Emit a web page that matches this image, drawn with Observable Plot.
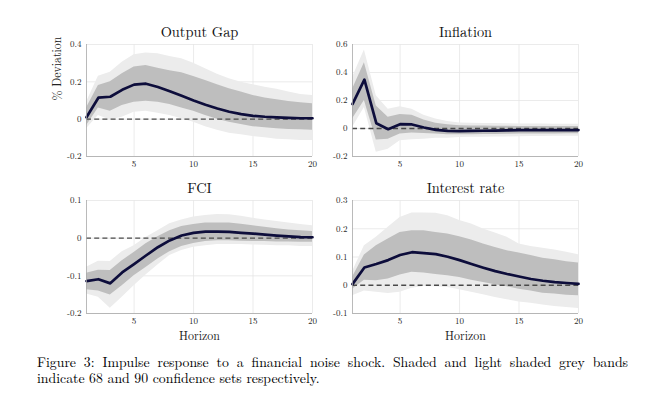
<!DOCTYPE html>
<html>
<head>
<meta charset="utf-8">
<script src="https://cdn.jsdelivr.net/npm/d3@7"></script>
<script src="https://cdn.jsdelivr.net/npm/@observablehq/plot@0.6"></script>
<style>
  html, body { margin: 0; padding: 0; background: #fff; }
</style>
</head>
<body>
<div id="wrap" style="position:relative;width:669px;height:408px;overflow:hidden;font-family:'Latin Modern Roman','Liberation Serif',serif;"></div>
<script>
const horizon = [1,2,3,4,5,6,7,8,9,10,11,12,13,14,15,16,17,18,19,20];
const xTicks = [5,10,15,20];

// Output Gap
const gapMed  = [0.01,0.115,0.12,0.157,0.185,0.19,0.172,0.15,0.125,0.10,0.077,0.057,0.04,0.027,0.018,0.013,0.01,0.007,0.005,0.005];
const gapLo68 = [-0.035,0.06,0.043,0.073,0.09,0.096,0.09,0.078,0.06,0.043,0.02,0.0,-0.016,-0.028,-0.04,-0.046,-0.052,-0.055,-0.057,-0.06];
const gapHi68 = [0.06,0.18,0.2,0.243,0.28,0.287,0.273,0.26,0.248,0.228,0.207,0.184,0.163,0.145,0.127,0.114,0.104,0.095,0.088,0.082];
const gapLo90 = [-0.052,0.02,-0.004,0.01,0.037,0.043,0.032,0.02,0.002,-0.016,-0.04,-0.06,-0.075,-0.084,-0.093,-0.1,-0.107,-0.11,-0.114,-0.114];
const gapHi90 = [0.09,0.23,0.252,0.305,0.345,0.355,0.35,0.336,0.323,0.3,0.27,0.24,0.216,0.198,0.184,0.171,0.16,0.145,0.132,0.127];

// Inflation
const infMed  = [0.174,0.349,0.038,-0.005,0.031,0.029,0.007,-0.01,-0.017,-0.019,-0.017,-0.016,-0.015,-0.014,-0.012,-0.012,-0.011,-0.011,-0.011,-0.011];
const infLo68 = [0.067,0.2,-0.083,-0.076,-0.04,-0.033,-0.036,-0.04,-0.045,-0.045,-0.044,-0.043,-0.042,-0.041,-0.04,-0.04,-0.039,-0.039,-0.038,-0.038];
const infHi68 = [0.28,0.47,0.16,0.08,0.1,0.095,0.06,0.038,0.026,0.02,0.018,0.017,0.016,0.016,0.015,0.015,0.015,0.015,0.015,0.015];
const infLo90 = [0.007,0.15,-0.17,-0.148,-0.088,-0.081,-0.076,-0.07,-0.07,-0.065,-0.063,-0.062,-0.061,-0.06,-0.059,-0.058,-0.057,-0.056,-0.055,-0.055];
const infHi90 = [0.365,0.56,0.234,0.138,0.155,0.138,0.095,0.067,0.05,0.04,0.037,0.036,0.035,0.034,0.033,0.032,0.032,0.031,0.031,0.03];

// FCI
const fciMed  = [-0.114,-0.109,-0.12,-0.091,-0.069,-0.046,-0.024,-0.006,0.007,0.014,0.0175,0.0175,0.0165,0.014,0.012,0.0095,0.007,0.005,0.003,0.0025];
const fciLo68 = [-0.137,-0.14,-0.151,-0.126,-0.1,-0.078,-0.055,-0.036,-0.022,-0.014,-0.009,-0.007,-0.007,-0.008,-0.009,-0.009,-0.01,-0.01,-0.011,-0.011];
const fciHi68 = [-0.093,-0.085,-0.086,-0.06,-0.038,-0.015,0.004,0.02,0.031,0.036,0.04,0.04,0.04,0.037,0.033,0.029,0.025,0.022,0.02,0.018];
const fciLo90 = [-0.148,-0.157,-0.186,-0.157,-0.126,-0.098,-0.071,-0.046,-0.033,-0.024,-0.02,-0.017,-0.017,-0.017,-0.018,-0.019,-0.02,-0.02,-0.022,-0.022];
const fciHi90 = [-0.077,-0.061,-0.062,-0.036,-0.02,0.002,0.02,0.038,0.048,0.056,0.06,0.063,0.062,0.058,0.053,0.048,0.044,0.04,0.036,0.033];

// Interest rate
const irMed  = [0.004,0.063,0.075,0.089,0.107,0.117,0.114,0.11,0.101,0.089,0.075,0.062,0.05,0.04,0.031,0.022,0.016,0.011,0.008,0.005];
const irLo68 = [-0.014,0.018,0.016,0.022,0.036,0.046,0.043,0.038,0.034,0.027,0.018,0.01,0.002,-0.005,-0.014,-0.02,-0.028,-0.031,-0.035,-0.037];
const irHi68 = [0.028,0.107,0.14,0.164,0.187,0.193,0.193,0.187,0.181,0.172,0.16,0.146,0.134,0.122,0.114,0.105,0.096,0.09,0.083,0.079];
const irLo90 = [-0.037,-0.02,-0.025,-0.029,-0.025,-0.011,-0.004,-0.005,-0.008,-0.016,-0.025,-0.034,-0.043,-0.051,-0.059,-0.064,-0.07,-0.075,-0.079,-0.082];
const irHi90 = [0.048,0.14,0.17,0.205,0.24,0.256,0.256,0.255,0.246,0.229,0.217,0.199,0.185,0.17,0.146,0.137,0.131,0.125,0.117,0.108];

const panels = [
  {title: "Output Gap", left: 86, top: 44, h: 112, yDomain: [-0.2, 0.4], yTicks: [-0.2, 0, 0.2, 0.4],
   med: gapMed, lo68: gapLo68, hi68: gapHi68, lo90: gapLo90, hi90: gapHi90, ylabel: "% Deviation", xlabel: null},
  {title: "Inflation", left: 352, top: 44, h: 112, yDomain: [-0.2, 0.6], yTicks: [-0.2, 0, 0.2, 0.4, 0.6],
   med: infMed, lo68: infLo68, hi68: infHi68, lo90: infLo90, hi90: infHi90, ylabel: null, xlabel: null},
  {title: "FCI", left: 86, top: 200, h: 113, yDomain: [-0.2, 0.1], yTicks: [-0.2, -0.1, 0, 0.1],
   med: fciMed, lo68: fciLo68, hi68: fciHi68, lo90: fciLo90, hi90: fciHi90, ylabel: null, xlabel: "Horizon"},
  {title: "Interest rate", left: 352, top: 200, h: 113, yDomain: [-0.1, 0.3], yTicks: [-0.1, 0, 0.1, 0.2, 0.3],
   med: irMed, lo68: irLo68, hi68: irHi68, lo90: irLo90, hi90: irHi90, ylabel: null, xlabel: "Horizon"}
];

const FONT = "'Latin Modern Roman', 'Liberation Serif', serif";
const W = 226, ML = 50, MR = 22, MT = 32, MB = 36;
const fmt = d => d === 0 ? "0" : String(+d.toFixed(2));
const wrap = document.getElementById("wrap");

for (const p of panels) {
  const rows = horizon.map((h, i) => ({h, med: p.med[i], lo68: p.lo68[i], hi68: p.hi68[i], lo90: p.lo90[i], hi90: p.hi90[i]}));
  const marks = [
    Plot.gridX(xTicks, {stroke: "#e6e6e6", strokeOpacity: 1, strokeWidth: 0.8}),
    Plot.gridY(p.yTicks, {stroke: "#e6e6e6", strokeOpacity: 1, strokeWidth: 0.8}),
    Plot.areaY(rows, {x: "h", y1: "lo90", y2: "hi90", fill: "#ececec"}),
    Plot.areaY(rows, {x: "h", y1: "lo68", y2: "hi68", fill: "#bebebe"}),
    Plot.ruleY([0], {stroke: "#4a4a4a", strokeWidth: 1.4, strokeDasharray: "5,3.2"}),
    Plot.line(rows, {x: "h", y: "med", stroke: "#0d0d3b", strokeWidth: 2.7}),
    Plot.ruleX([1], {stroke: "#a8a8a8", strokeWidth: 0.8}),
    Plot.ruleY([p.yDomain[0]], {stroke: "#a8a8a8", strokeWidth: 0.8}),
    Plot.axisX({ticks: xTicks, tickSize: 0, tickPadding: 4, tickFormat: fmt, fontSize: 9, fontFamily: FONT, fill: "#262626", label: null}),
    Plot.axisY({ticks: p.yTicks, tickSize: 0, tickPadding: 5, tickFormat: fmt, fontSize: 9, fontFamily: FONT, fill: "#262626", label: null}),
    Plot.text([p.title], {frameAnchor: "top", dy: -12, lineAnchor: "middle", fontSize: 14.4, fontFamily: FONT, fill: "#111"})
  ];
  if (p.ylabel) marks.push(Plot.text([p.ylabel], {frameAnchor: "left", dx: -29, rotate: -90, lineAnchor: "middle", fontSize: 11.8, fontFamily: FONT, fill: "#222"}));
  if (p.xlabel) marks.push(Plot.text([p.xlabel], {frameAnchor: "bottom", dy: 23, lineAnchor: "middle", fontSize: 12, fontFamily: FONT, fill: "#222"}));

  const chart = Plot.plot({
    width: W + ML + MR,
    height: p.h + MT + MB,
    marginLeft: ML, marginRight: MR, marginTop: MT, marginBottom: MB,
    x: {domain: [1, 20]},
    y: {domain: p.yDomain},
    style: {fontFamily: FONT, fontSize: "9px", color: "#262626", background: "transparent", overflow: "visible"},
    marks
  });
  const div = document.createElement("div");
  div.style.position = "absolute";
  div.style.left = (p.left - ML) + "px";
  div.style.top = (p.top - MT) + "px";
  div.appendChild(chart);
  wrap.appendChild(div);
}

const captionText = "Figure 3: Impulse response to a financial noise shock.  Shaded and light shaded grey bands indicate 68 and 90 confidence sets respectively.";
const cap = document.createElement("div");
cap.style.position = "absolute";
cap.style.left = "37px";
cap.style.width = "591px";
cap.style.top = "354px";
cap.style.fontFamily = FONT;
cap.style.fontSize = "13.8px";
cap.style.lineHeight = "15.5px";
cap.style.color = "#000";
cap.style.textAlign = "justify";
cap.textContent = captionText;
wrap.appendChild(cap);
</script>
</body>
</html>
